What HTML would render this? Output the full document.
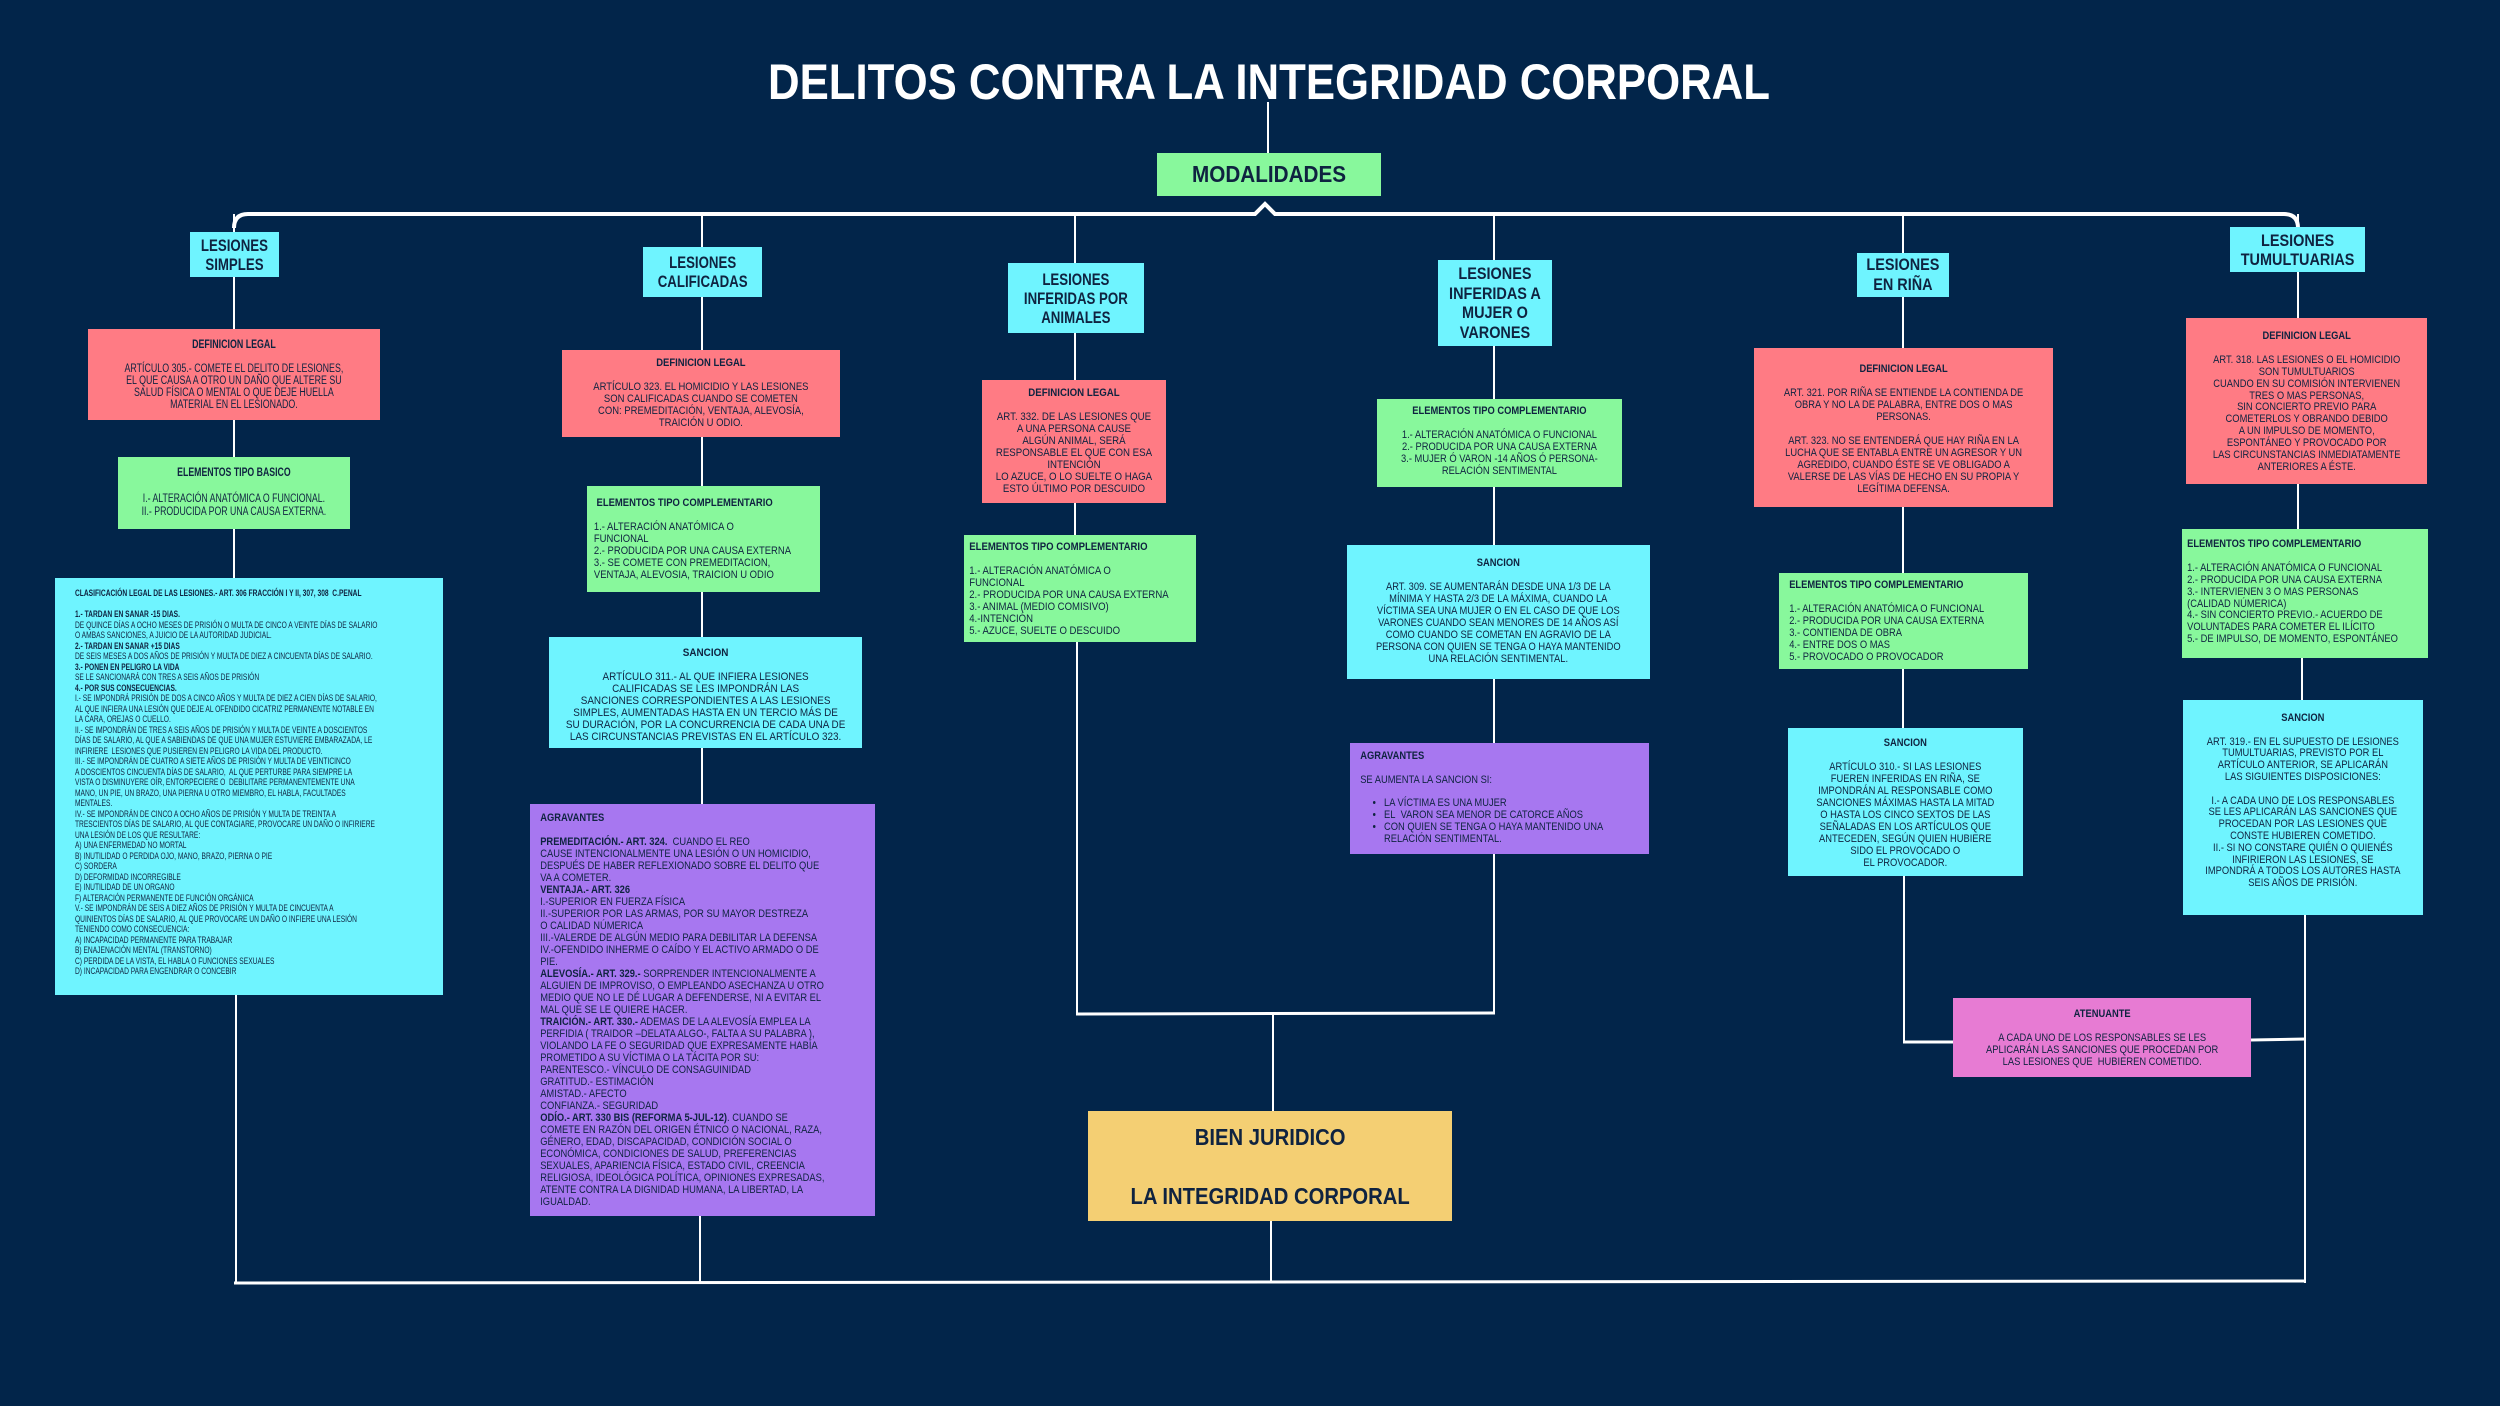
<!DOCTYPE html>
<html><head><meta charset="utf-8">
<style>
html,body{margin:0;padding:0}
body{width:2500px;height:1406px;background:#02254a;position:relative;overflow:hidden;font-family:"Liberation Sans",sans-serif;color:#0f2340}
.b{position:absolute;overflow:visible}
.t{transform-origin:0 0;white-space:nowrap;box-sizing:border-box}
.c{text-align:center}
.cat{display:flex;flex-direction:column;justify-content:center;align-items:center;height:100%;font-weight:bold;text-align:center}
b{font-weight:bold}
ul{margin:0;padding:0 0 0 28px}
.cy{background:#6ff4ff}.rd{background:#ff7b84}.gr{background:#88f89c}.pu{background:#a777f0}.pk{background:#e77bd3}.ye{background:#f4cf73}
</style></head><body>
<svg width="2500" height="1406" style="position:absolute;left:0;top:0">
<g stroke="#fff" fill="none">
<line x1="1268" y1="102" x2="1268" y2="153" stroke-width="2"/>
<path d="M234,228 Q234,214 248,214 L1255,214 L1265,204 L1275,214 L2284,214 Q2298,214 2298,228" stroke-width="4"/>
<g stroke-width="2">
<line x1="234" y1="214" x2="234" y2="232"/><line x1="234" y1="277" x2="234" y2="329"/><line x1="234" y1="420" x2="234" y2="457"/><line x1="234" y1="529" x2="234" y2="578"/><line x1="236" y1="995" x2="236" y2="1283"/>
<line x1="702" y1="214" x2="702" y2="247"/><line x1="702" y1="297" x2="702" y2="350"/><line x1="702" y1="437" x2="702" y2="486"/><line x1="702" y1="592" x2="702" y2="637"/><line x1="702" y1="748" x2="702" y2="804"/><line x1="700" y1="1216" x2="700" y2="1283"/>
<line x1="1075" y1="214" x2="1075" y2="263"/><line x1="1075" y1="333" x2="1075" y2="380"/><line x1="1075" y1="503" x2="1075" y2="535"/><line x1="1077" y1="642" x2="1077" y2="1013"/>
<line x1="1494" y1="214" x2="1494" y2="260"/><line x1="1494" y1="346" x2="1494" y2="399"/><line x1="1494" y1="487" x2="1494" y2="545"/><line x1="1494" y1="679" x2="1494" y2="743"/><line x1="1494" y1="854" x2="1494" y2="1013"/>
<line x1="1903" y1="214" x2="1903" y2="253"/><line x1="1903" y1="297" x2="1903" y2="348"/><line x1="1903" y1="507" x2="1903" y2="573"/><line x1="1903" y1="669" x2="1903" y2="728"/><line x1="1904" y1="876" x2="1904" y2="1042"/>
<line x1="2298" y1="214" x2="2298" y2="227"/><line x1="2298" y1="272" x2="2298" y2="318"/><line x1="2298" y1="484" x2="2298" y2="529"/><line x1="2302" y1="658" x2="2302" y2="700"/><line x1="2305" y1="915" x2="2305" y2="1283"/>
<line x1="1273" y1="1015" x2="1273" y2="1111"/><line x1="1271" y1="1221" x2="1271" y2="1283"/>
</g>
<line x1="1076" y1="1014" x2="1495" y2="1013" stroke-width="3"/>
<line x1="1903" y1="1042" x2="1953" y2="1042" stroke-width="3"/>
<line x1="2251" y1="1040" x2="2306" y2="1039" stroke-width="3"/>
<line x1="234" y1="1283" x2="2306" y2="1281" stroke-width="3"/>
</g>
<text x="1269" y="99" text-anchor="middle" font-family="Liberation Sans, sans-serif" font-weight="bold" font-size="50" fill="#fff" textLength="1002" lengthAdjust="spacingAndGlyphs">DELITOS CONTRA LA INTEGRIDAD CORPORAL</text>
</svg>

<div class="b gr" style="left:1157px;top:153px;width:224px;height:43px"><div class="t" style="width:249px;height:43px;transform:scaleX(.9)"><div class="cat" style="font-size:23px">MODALIDADES</div></div></div>

<div class="b cy" style="left:190px;top:232px;width:89px;height:45px"><div class="t" style="width:114px;height:45px;transform:scaleX(.78)"><div class="cat" style="font-size:17px;line-height:19px">LESIONES<br>SIMPLES</div></div></div>
<div class="b cy" style="left:643px;top:247px;width:119px;height:50px"><div class="t" style="width:153px;height:50px;transform:scaleX(.78)"><div class="cat" style="font-size:17px;line-height:19px">LESIONES<br>CALIFICADAS</div></div></div>
<div class="b cy" style="left:1008px;top:263px;width:136px;height:70px"><div class="t" style="width:174px;height:70px;transform:scaleX(.78)"><div class="cat" style="font-size:17px;line-height:19px">LESIONES<br>INFERIDAS POR<br>ANIMALES</div></div></div>
<div class="b cy" style="left:1438px;top:260px;width:114px;height:86px"><div class="t" style="width:134px;height:86px;transform:scaleX(.85)"><div class="cat" style="font-size:17px;line-height:19.5px">LESIONES<br>INFERIDAS A<br>MUJER O<br>VARONES</div></div></div>
<div class="b cy" style="left:1857px;top:253px;width:92px;height:44px"><div class="t" style="width:108px;height:44px;transform:scaleX(.85)"><div class="cat" style="font-size:17px;line-height:20px">LESIONES<br>EN RIÑA</div></div></div>
<div class="b cy" style="left:2230px;top:227px;width:135px;height:45px"><div class="t" style="width:159px;height:45px;transform:scaleX(.85)"><div class="cat" style="font-size:17px;line-height:19px">LESIONES<br>TUMULTUARIAS</div></div></div>

<!-- col1 -->
<div class="b rd" style="left:88px;top:329px;width:292px;height:91px"><div class="t c" style="width:379px;transform:scaleX(.77);padding-top:10px;font-size:11.5px;line-height:12px"><b>DEFINICION LEGAL</b><br><br>ARTÍCULO 305.- COMETE EL DELITO DE LESIONES,<br>EL QUE CAUSA A OTRO UN DAÑO QUE ALTERE SU<br>SALUD FÍSICA O MENTAL O QUE DEJE HUELLA<br>MATERIAL EN EL LESIONADO.</div></div>
<div class="b gr" style="left:118px;top:457px;width:232px;height:72px"><div class="t c" style="width:305px;transform:scaleX(.76);padding-top:10px;font-size:11.5px;line-height:13px"><b>ELEMENTOS TIPO BASICO</b><br><br>I.- ALTERACIÓN ANATÓMICA O FUNCIONAL.<br>II.- PRODUCIDA POR UNA CAUSA EXTERNA.</div></div>
<div class="b cy" style="left:55px;top:578px;width:388px;height:417px"><div class="t" style="width:524px;transform:scaleX(.74);padding:10px 0 0 27px;font-size:9px;line-height:10.5px"><b>CLASIFICACIÓN LEGAL DE LAS LESIONES.- ART. 306 FRACCIÓN I Y II, 307, 308&nbsp; C.PENAL</b><br><br><b>1.- TARDAN EN SANAR -15 DIAS.</b><br>DE QUINCE DÍAS A OCHO MESES DE PRISIÓN O MULTA DE CINCO A VEINTE DÍAS DE SALARIO<br>O AMBAS SANCIONES, A JUICIO DE LA AUTORIDAD JUDICIAL.<br><b>2.- TARDAN EN SANAR +15 DIAS</b><br>DE SEIS MESES A DOS AÑOS DE PRISIÓN Y MULTA DE DIEZ A CINCUENTA DÍAS DE SALARIO.<br><b>3.- PONEN EN PELIGRO LA VIDA</b><br>SE LE SANCIONARÁ CON TRES A SEIS AÑOS DE PRISIÓN<br><b>4.- POR SUS CONSECUENCIAS.</b><br>I.- SE IMPONDRÁ PRISIÓN DE DOS A CINCO AÑOS Y MULTA DE DIEZ A CIEN DÍAS DE SALARIO,<br>AL QUE INFIERA UNA LESIÓN QUE DEJE AL OFENDIDO CICATRIZ PERMANENTE NOTABLE EN<br>LA CARA, OREJAS O CUELLO.<br>II.- SE IMPONDRÁN DE TRES A SEIS AÑOS DE PRISIÓN Y MULTA DE VEINTE A DOSCIENTOS<br>DÍAS DE SALARIO, AL QUE A SABIENDAS DE QUE UNA MUJER ESTUVIERE EMBARAZADA, LE<br>INFIRIERE&nbsp; LESIONES QUE PUSIEREN EN PELIGRO LA VIDA DEL PRODUCTO.<br>III.- SE IMPONDRÁN DE CUATRO A SIETE AÑOS DE PRISIÓN Y MULTA DE VEINTICINCO<br>A DOSCIENTOS CINCUENTA DÍAS DE SALARIO,&nbsp; AL QUE PERTURBE PARA SIEMPRE LA<br>VISTA O DISMINUYERE OÍR, ENTORPECIERE O&nbsp; DEBILITARE PERMANENTEMENTE UNA<br>MANO, UN PIE, UN BRAZO, UNA PIERNA U OTRO MIEMBRO, EL HABLA, FACULTADES<br>MENTALES.<br>IV.- SE IMPONDRÁN DE CINCO A OCHO AÑOS DE PRISIÓN Y MULTA DE TREINTA A<br>TRESCIENTOS DÍAS DE SALARIO, AL QUE CONTAGIARE, PROVOCARE UN DAÑO O INFIRIERE<br>UNA LESIÓN DE LOS QUE RESULTARE:<br>A) UNA ENFERMEDAD NO MORTAL<br>B) INUTILIDAD O PERDIDA OJO, MANO, BRAZO, PIERNA O PIE<br>C) SORDERA<br>D) DEFORMIDAD INCORREGIBLE<br>E) INUTILIDAD DE UN ORGANO<br>F) ALTERACIÓN PERMANENTE DE FUNCIÓN ORGÁNICA<br>V.- SE IMPONDRÁN DE SEIS A DIEZ AÑOS DE PRISIÓN Y MULTA DE CINCUENTA A<br>QUINIENTOS DÍAS DE SALARIO, AL QUE PROVOCARE UN DAÑO O INFIERE UNA LESIÓN<br>TENIENDO COMO CONSECUENCIA:<br>A) INCAPACIDAD PERMANENTE PARA TRABAJAR<br>B) ENAJENACIÓN MENTAL (TRANSTORNO)<br>C) PERDIDA DE LA VISTA, EL HABLA O FUNCIONES SEXUALES<br>D) INCAPACIDAD PARA ENGENDRAR O CONCEBIR</div></div>

<!-- col2 -->
<div class="b rd" style="left:562px;top:350px;width:278px;height:87px"><div class="t c" style="width:323px;transform:scaleX(.86);padding-top:7px;font-size:11px;line-height:12px"><b>DEFINICION LEGAL</b><br><br>ARTÍCULO 323. EL HOMICIDIO Y LAS LESIONES<br>SON CALIFICADAS CUANDO SE COMETEN<br>CON: PREMEDITACIÓN, VENTAJA, ALEVOSÍA,<br>TRAICIÓN U ODIO.</div></div>
<div class="b gr" style="left:587px;top:486px;width:233px;height:106px"><div class="t" style="width:271px;transform:scaleX(.86);padding:11px 0 0 8px;font-size:11px;line-height:12px"><b>&nbsp;ELEMENTOS TIPO COMPLEMENTARIO</b><br><br>1.- ALTERACIÓN ANATÓMICA O<br>FUNCIONAL<br>2.- PRODUCIDA POR UNA CAUSA EXTERNA<br>3.- SE COMETE CON PREMEDITACION,<br>VENTAJA, ALEVOSIA, TRAICION U ODIO</div></div>
<div class="b cy" style="left:549px;top:637px;width:313px;height:111px"><div class="t c" style="width:348px;transform:scaleX(.9);padding-top:10px;font-size:11px;line-height:12px"><b>SANCION</b><br><br>ARTÍCULO 311.- AL QUE INFIERA LESIONES<br>CALIFICADAS SE LES IMPONDRÁN LAS<br>SANCIONES CORRESPONDIENTES A LAS LESIONES<br>SIMPLES, AUMENTADAS HASTA EN UN TERCIO MÁS DE<br>SU DURACIÓN, POR LA CONCURRENCIA DE CADA UNA DE<br>LAS CIRCUNSTANCIAS PREVISTAS EN EL ARTÍCULO 323.</div></div>
<div class="b pu" style="left:530px;top:804px;width:345px;height:412px"><div class="t" style="width:406px;transform:scaleX(.85);padding:8px 0 0 12px;font-size:11px;line-height:12px"><b>AGRAVANTES</b><br><br><b>PREMEDITACIÓN.- ART. 324.</b>&nbsp; CUANDO EL REO<br>CAUSE INTENCIONALMENTE UNA LESIÓN O UN HOMICIDIO,<br>DESPUÉS DE HABER REFLEXIONADO SOBRE EL DELITO QUE<br>VA A COMETER.<br><b>VENTAJA.- ART. 326</b><br>I.-SUPERIOR EN FUERZA FÍSICA<br>II.-SUPERIOR POR LAS ARMAS, POR SU MAYOR DESTREZA<br>O CALIDAD NÚMERICA<br>III.-VALERDE DE ALGÚN MEDIO PARA DEBILITAR LA DEFENSA<br>IV.-OFENDIDO INHERME O CAÍDO Y EL ACTIVO ARMADO O DE<br>PIE.<br><b>ALEVOSÍA.- ART. 329.-</b> SORPRENDER INTENCIONALMENTE A<br>ALGUIEN DE IMPROVISO, O EMPLEANDO ASECHANZA U OTRO<br>MEDIO QUE NO LE DÉ LUGAR A DEFENDERSE, NI A EVITAR EL<br>MAL QUE SE LE QUIERE HACER.<br><b>TRAICIÓN.- ART. 330.-</b> ADEMAS DE LA ALEVOSÍA EMPLEA LA<br>PERFIDIA ( TRAIDOR –DELATA ALGO-, FALTA A SU PALABRA ),<br>VIOLANDO LA FE O SEGURIDAD QUE EXPRESAMENTE HABÍA<br>PROMETIDO A SU VÍCTIMA O LA TÁCITA POR SU:<br>PARENTESCO.- VÍNCULO DE CONSAGUINIDAD<br>GRATITUD.- ESTIMACIÓN<br>AMISTAD.- AFECTO<br>CONFIANZA.- SEGURIDAD<br><b>ODÍO.- ART. 330 BIS (REFORMA 5-JUL-12)</b>. CUANDO SE<br>COMETE EN RAZÓN DEL ORIGEN ÉTNICO O NACIONAL, RAZA,<br>GÉNERO, EDAD, DISCAPACIDAD, CONDICIÓN SOCIAL O<br>ECONÓMICA, CONDICIONES DE SALUD, PREFERENCIAS<br>SEXUALES, APARIENCIA FÍSICA, ESTADO CIVIL, CREENCIA<br>RELIGIOSA, IDEOLÓGICA POLÍTICA, OPINIONES EXPRESADAS,<br>ATENTE CONTRA LA DIGNIDAD HUMANA, LA LIBERTAD, LA<br>IGUALDAD.</div></div>

<!-- col3 -->
<div class="b rd" style="left:982px;top:380px;width:184px;height:123px"><div class="t c" style="width:209px;transform:scaleX(.88);padding-top:7px;font-size:11px;line-height:12px"><b>DEFINICION LEGAL</b><br><br>ART. 332. DE LAS LESIONES QUE<br>A UNA PERSONA CAUSE<br>ALGÚN ANIMAL, SERÁ<br>RESPONSABLE EL QUE CON ESA<br>INTENCIÓN<br>LO AZUCE, O LO SUELTE O HAGA<br>ESTO ÚLTIMO POR DESCUIDO</div></div>
<div class="b gr" style="left:964px;top:535px;width:232px;height:107px"><div class="t" style="width:267px;transform:scaleX(.87);padding:6px 0 0 6px;font-size:11px;line-height:12px"><b>ELEMENTOS TIPO COMPLEMENTARIO</b><br><br>1.- ALTERACIÓN ANATÓMICA O<br>FUNCIONAL<br>2.- PRODUCIDA POR UNA CAUSA EXTERNA<br>3.- ANIMAL (MEDIO COMISIVO)<br>4.-INTENCIÓN<br>5.- AZUCE, SUELTE O DESCUIDO</div></div>

<!-- col4 -->
<div class="b gr" style="left:1377px;top:399px;width:245px;height:88px"><div class="t c" style="width:288px;transform:scaleX(.85);padding-top:6px;font-size:11px;line-height:12px"><b>ELEMENTOS TIPO COMPLEMENTARIO</b><br><br>1.- ALTERACIÓN ANATÓMICA O FUNCIONAL<br>2.- PRODUCIDA POR UNA CAUSA EXTERNA<br>3.- MUJER Ó VARON -14 AÑOS Ó PERSONA-<br>RELACIÓN SENTIMENTAL</div></div>
<div class="b cy" style="left:1347px;top:545px;width:303px;height:134px"><div class="t c" style="width:356px;transform:scaleX(.85);padding-top:12px;font-size:11px;line-height:12px"><b>SANCION</b><br><br>ART. 309. SE AUMENTARÁN DESDE UNA 1/3 DE LA<br>MÍNIMA Y HASTA 2/3 DE LA MÁXIMA, CUANDO LA<br>VÍCTIMA SEA UNA MUJER O EN EL CASO DE QUE LOS<br>VARONES CUANDO SEAN MENORES DE 14 AÑOS ASÍ<br>COMO CUANDO SE COMETAN EN AGRAVIO DE LA<br>PERSONA CON QUIEN SE TENGA O HAYA MANTENIDO<br>UNA RELACIÓN SENTIMENTAL.</div></div>
<div class="b pu" style="left:1350px;top:743px;width:299px;height:111px"><div class="t" style="width:352px;transform:scaleX(.85);padding:7px 0 0 12px;font-size:11px;line-height:12px"><b>AGRAVANTES</b><div style="height:12px"></div>SE AUMENTA LA SANCION SI:<div style="height:11px"></div><ul><li>LA VÍCTIMA ES UNA MUJER</li><li>EL&nbsp; VARON SEA MENOR DE CATORCE AÑOS</li><li>CON QUIEN SE TENGA O HAYA MANTENIDO UNA<br>RELACIÓN SENTIMENTAL.</li></ul></div></div>

<!-- col5 -->
<div class="b rd" style="left:1754px;top:348px;width:299px;height:159px"><div class="t c" style="width:352px;transform:scaleX(.85);padding-top:15px;font-size:11px;line-height:12px"><b>DEFINICION LEGAL</b><br><br>ART. 321. POR RIÑA SE ENTIENDE LA CONTIENDA DE<br>OBRA Y NO LA DE PALABRA, ENTRE DOS O MAS<br>PERSONAS.<br><br>ART. 323. NO SE ENTENDERÁ QUE HAY RIÑA EN LA<br>LUCHA QUE SE ENTABLA ENTRE UN AGRESOR Y UN<br>AGREDIDO, CUANDO ÉSTE SE VE OBLIGADO A<br>VALERSE DE LAS VÍAS DE HECHO EN SU PROPIA Y<br>LEGÍTIMA DEFENSA.</div></div>
<div class="b gr" style="left:1779px;top:573px;width:249px;height:96px"><div class="t" style="width:293px;transform:scaleX(.85);padding:6px 0 0 12px;font-size:11px;line-height:12px"><b>ELEMENTOS TIPO COMPLEMENTARIO</b><br><br>1.- ALTERACIÓN ANATÓMICA O FUNCIONAL<br>2.- PRODUCIDA POR UNA CAUSA EXTERNA<br>3.- CONTIENDA DE OBRA<br>4.- ENTRE DOS O MAS<br>5.- PROVOCADO O PROVOCADOR</div></div>
<div class="b cy" style="left:1788px;top:728px;width:235px;height:148px"><div class="t c" style="width:276px;transform:scaleX(.85);padding-top:9px;font-size:11px;line-height:12px"><b>SANCION</b><br><br>ARTÍCULO 310.- SI LAS LESIONES<br>FUEREN INFERIDAS EN RIÑA, SE<br>IMPONDRÁN AL RESPONSABLE COMO<br>SANCIONES MÁXIMAS HASTA LA MITAD<br>O HASTA LOS CINCO SEXTOS DE LAS<br>SEÑALADAS EN LOS ARTÍCULOS QUE<br>ANTECEDEN, SEGÚN QUIEN HUBIERE<br>SIDO EL PROVOCADO O<br>EL PROVOCADOR.</div></div>
<div class="b pk" style="left:1953px;top:998px;width:298px;height:79px"><div class="t c" style="width:351px;transform:scaleX(.85);padding-top:10px;font-size:11px;line-height:12px"><b>ATENUANTE</b><br><br>A CADA UNO DE LOS RESPONSABLES SE LES<br>APLICARÁN LAS SANCIONES QUE PROCEDAN POR<br>LAS LESIONES QUE&nbsp; HUBIEREN COMETIDO.</div></div>

<!-- col6 -->
<div class="b rd" style="left:2186px;top:318px;width:241px;height:166px"><div class="t c" style="width:284px;transform:scaleX(.85);padding-top:13px;font-size:11px;line-height:11.9px"><b>DEFINICION LEGAL</b><br><br>ART. 318. LAS LESIONES O EL HOMICIDIO<br>SON TUMULTUARIOS<br>CUANDO EN SU COMISIÓN INTERVIENEN<br>TRES O MAS PERSONAS,<br>SIN CONCIERTO PREVIO PARA<br>COMETERLOS Y OBRANDO DEBIDO<br>A UN IMPULSO DE MOMENTO,<br>ESPONTÁNEO Y PROVOCADO POR<br>LAS CIRCUNSTANCIAS INMEDIATAMENTE<br>ANTERIORES A ÉSTE.</div></div>
<div class="b gr" style="left:2182px;top:529px;width:246px;height:129px"><div class="t" style="width:289px;transform:scaleX(.85);padding:10px 0 0 6px;font-size:11px;line-height:11.9px"><b>ELEMENTOS TIPO COMPLEMENTARIO</b><br><br>1.- ALTERACIÓN ANATÓMICA O FUNCIONAL<br>2.- PRODUCIDA POR UNA CAUSA EXTERNA<br>3.- INTERVIENEN 3 O MAS PERSONAS<br>(CALIDAD NÚMERICA)<br>4.- SIN CONCIERTO PREVIO.- ACUERDO DE<br>VOLUNTADES PARA COMETER EL ILÍCITO<br>5.- DE IMPULSO, DE MOMENTO, ESPONTÁNEO</div></div>
<div class="b cy" style="left:2183px;top:700px;width:240px;height:215px"><div class="t c" style="width:282px;transform:scaleX(.85);padding-top:13px;font-size:11px;line-height:11.8px"><b>SANCION</b><br><br>ART. 319.- EN EL SUPUESTO DE LESIONES<br>TUMULTUARIAS, PREVISTO POR EL<br>ARTÍCULO ANTERIOR, SE APLICARÁN<br>LAS SIGUIENTES DISPOSICIONES:<br><br>I.- A CADA UNO DE LOS RESPONSABLES<br>SE LES APLICARÁN LAS SANCIONES QUE<br>PROCEDAN POR LAS LESIONES QUE<br>CONSTE HUBIEREN COMETIDO.<br>II.- SI NO CONSTARE QUIÉN O QUIENÉS<br>INFIRIERON LAS LESIONES, SE<br>IMPONDRÁ A TODOS LOS AUTORES HASTA<br>SEIS AÑOS DE PRISIÓN.</div></div>

<!-- bien juridico -->
<div class="b ye" style="left:1088px;top:1111px;width:364px;height:110px"><div class="t c" style="width:414px;transform:scaleX(.88);font-size:23px;font-weight:bold;line-height:26px;padding-top:13px">BIEN JURIDICO<br><div style="height:33px"></div>LA INTEGRIDAD CORPORAL</div></div>
</body></html>
